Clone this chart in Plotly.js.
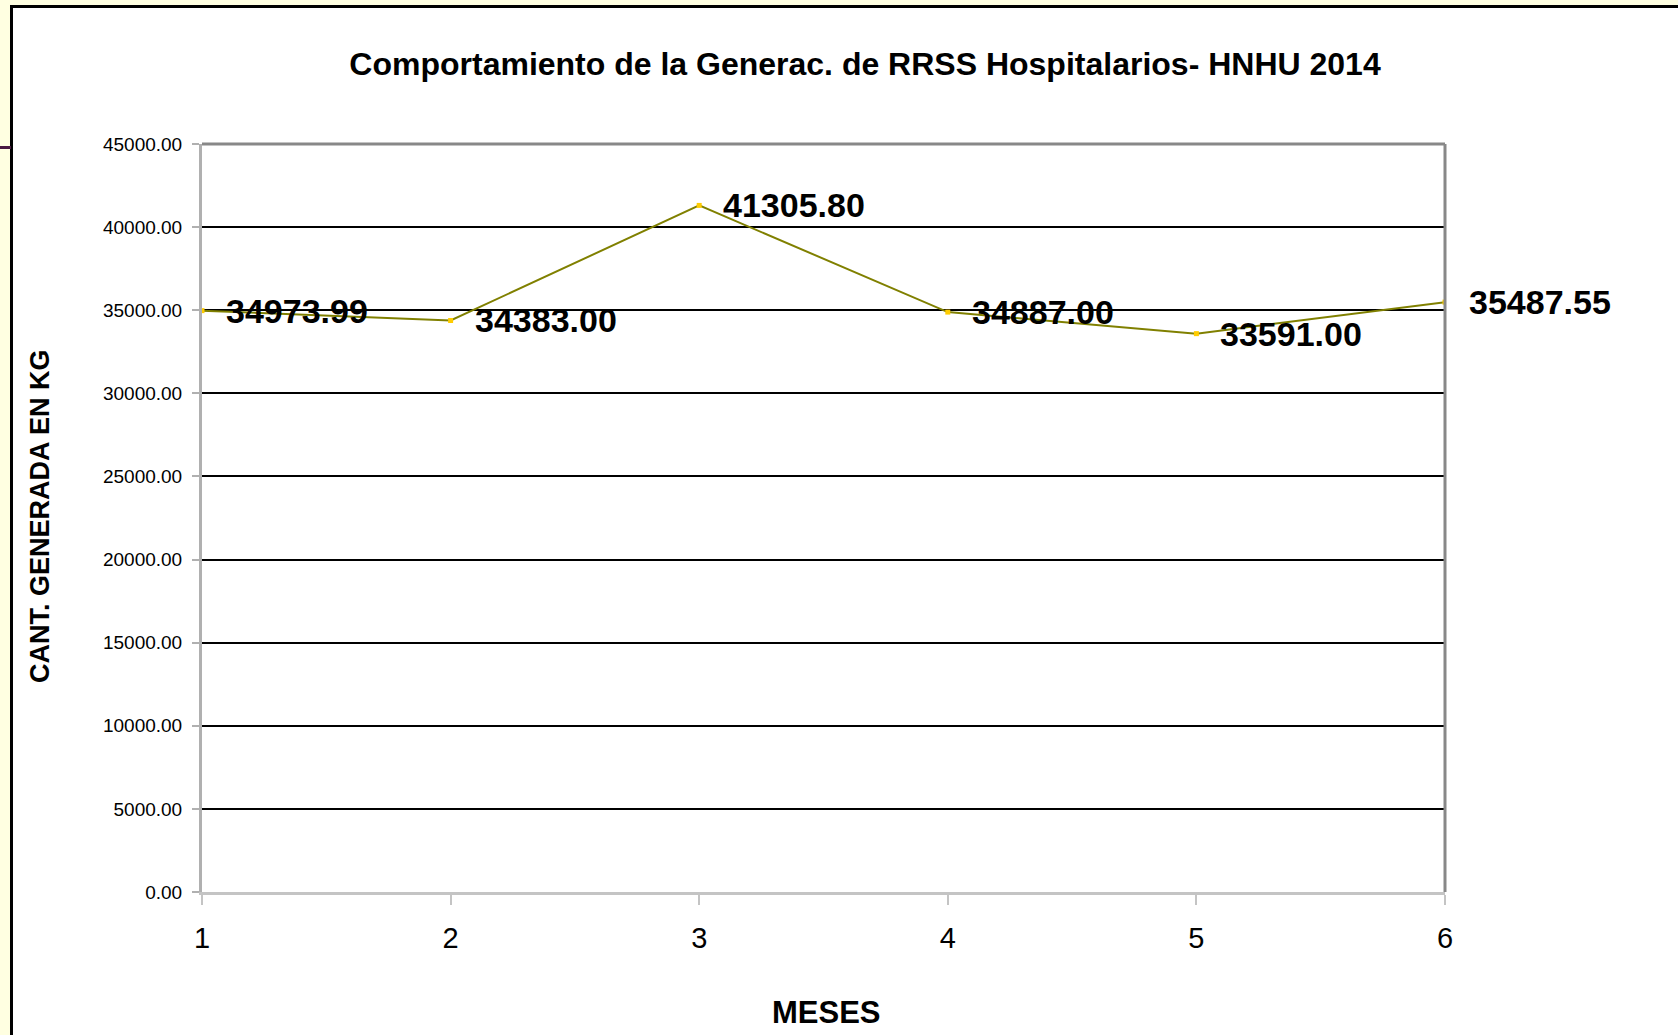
<!DOCTYPE html>
<html>
<head>
<meta charset="utf-8">
<script src="https://cdn.plot.ly/plotly-3.0.1.min.js"></script>
<style>
  html, body { margin:0; padding:0; width:1678px; height:1035px; overflow:hidden; background:#FFFFE1; }
  #frame { position:absolute; left:10px; top:5px; width:1665px; height:1100px; background:#ffffff;
           border:3px solid #000; border-bottom:none; }
  #deco { position:absolute; left:0; top:146px; width:11px; height:3px; background:#4a1942; }
  #chart { position:absolute; left:0; top:0; width:1678px; height:1035px; }
</style>
</head>
<body>
<div id="frame"></div>
<div id="deco"></div>
<div id="chart"></div>
<script>
// Data
const months = [1, 2, 3, 4, 5, 6];
const quantities = [34973.99, 34383.00, 41305.80, 34887.00, 33591.00, 35487.55];
const valueLabels = ["34973.99", "34383.00", "41305.80", "34887.00", "33591.00", "35487.55"];
const yTickValues = [0, 5000, 10000, 15000, 20000, 25000, 30000, 35000, 40000, 45000];

const FONT = '"Liberation Sans", Arial, sans-serif';

const trace = {
  x: months,
  y: quantities,
  type: 'scatter',
  mode: 'lines+markers',
  line: { color: '#808000', width: 2 },
  marker: { color: '#FFCC00', size: 5, symbol: 'square' },
  hoverinfo: 'x+y',
  showlegend: false
};

const labelAnnotations = months.map((m, i) => ({
  x: m, y: quantities[i], xref: 'x', yref: 'y',
  text: '<b>' + valueLabels[i] + '</b>',
  showarrow: false, xanchor: 'left', yanchor: 'middle', xshift: 22,
  font: { family: FONT, size: 34, color: '#000' }
}));

const layout = {
  width: 1678, height: 1035,
  paper_bgcolor: 'rgba(0,0,0,0)',
  plot_bgcolor: '#ffffff',
  margin: { l: 202, r: 233, t: 144, b: 143 },
  title: {
    text: '<b>Comportamiento de la Generac. de RRSS Hospitalarios- HNHU 2014</b>',
    x: (865 - 202) / 1243, xanchor: 'center', xref: 'paper',
    y: 1 - 64/1035, yanchor: 'middle', yref: 'container',
    font: { family: FONT, size: 32, color: '#000' }
  },
  xaxis: {
    range: [1, 6], tickvals: months, ticktext: months.map(String),
    showgrid: false, zeroline: false,
    showline: true, linecolor: '#c4c4c4', linewidth: 3,
    ticks: 'outside', ticklen: 10, tickwidth: 2, tickcolor: '#c4c4c4',
    ticklabelstandoff: 8,
    tickfont: { family: FONT, size: 29, color: '#000' }
  },
  yaxis: {
    range: [0, 45000], tickvals: yTickValues, tickformat: '.2f',
    showgrid: true, gridcolor: '#000', gridwidth: 2,
    zeroline: false,
    showline: true, linecolor: '#b0b0b0', linewidth: 3,
    ticks: 'outside', ticklen: 7, tickwidth: 2, tickcolor: '#b0b0b0',
    ticklabelstandoff: 6,
    tickfont: { family: FONT, size: 19, color: '#000' }
  },
  shapes: [
    { type: 'line', xref: 'paper', yref: 'paper', x0: 0, x1: 1, y0: 1, y1: 1,
      line: { color: '#888888', width: 3 }, layer: 'above' },
    { type: 'line', xref: 'paper', yref: 'paper', x0: 1, x1: 1, y0: 0, y1: 1,
      line: { color: '#888888', width: 3 }, layer: 'above' }
  ],
  annotations: labelAnnotations.concat([
    { text: '<b>MESES</b>', xref: 'paper', yref: 'paper',
      x: (826 - 202) / 1243, y: (892 - 1012) / 748, xanchor: 'center', yanchor: 'middle',
      showarrow: false, font: { family: FONT, size: 31, color: '#000' } },
    { text: '<b>CANT. GENERADA EN KG</b>', xref: 'paper', yref: 'paper', textangle: -90,
      x: (40 - 202) / 1243, y: (892 - 516) / 748, xanchor: 'center', yanchor: 'middle',
      showarrow: false, font: { family: FONT, size: 27, color: '#000' } }
  ])
};

Plotly.newPlot('chart', [trace], layout, { displayModeBar: false, staticPlot: true });
</script>
</body>
</html>
